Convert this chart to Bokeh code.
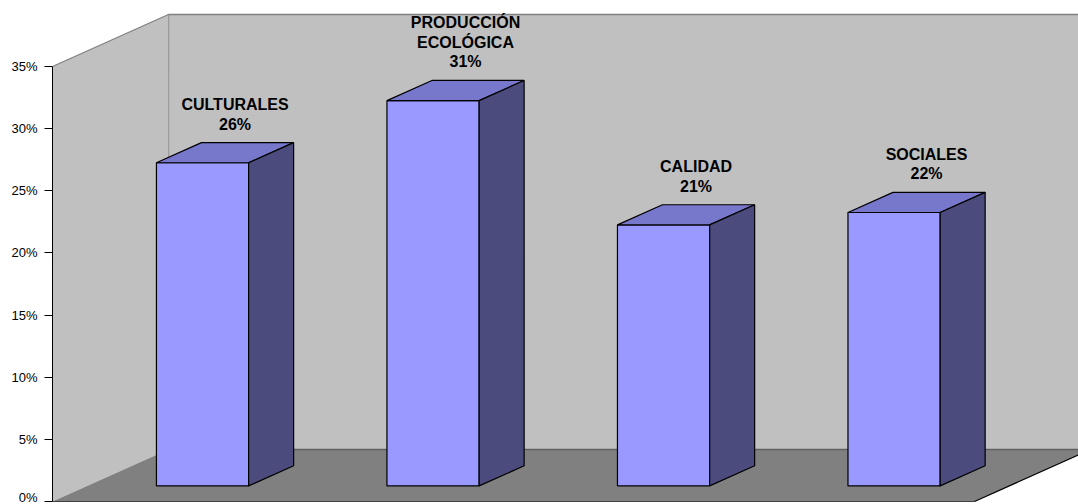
from bokeh.plotting import figure
from bokeh.models import Range1d, FixedTicker, PrintfTickFormatter, ColumnDataSource
from bokeh.core.properties import value
from bokeh.embed import file_html
from bokeh.resources import INLINE

# Chart data
categories = ["CULTURALES", "PRODUCCIÓN\nECOLÓGICA", "CALIDAD", "SOCIALES"]
percent = [26, 31, 21, 22]
y_ticks = [0, 5, 10, 15, 20, 25, 30, 35]

# 3-D box geometry (x in category slots, y in percent)
Y_MAX = 35
DEPTH_X = 0.503          # horizontal shift from front to back wall
DEPTH_Y = 4.18           # vertical shift from front to back wall
F_FRONT, F_BACK = 0.30, 0.688   # bar front/back depth as a fraction of the box
BAR_W = 0.40
N = len(categories)

WALL = "#C0C0C0"
FLOOR = "#808080"
BAR_FRONT = "#9999FF"
BAR_TOP = "#7777CC"
BAR_SIDE = "#4B4B7D"

p = figure(width=1078, height=504, output_backend="svg", toolbar_location=None,
           x_range=Range1d(0, 4.451), y_range=Range1d(-0.241, 40.31),
           min_border_left=52, min_border_right=0, min_border_top=0, min_border_bottom=0,
           tools="")
p.xaxis.visible = False
p.xgrid.visible = False
p.ygrid.visible = False
p.outline_line_color = None
p.background_fill_color = "white"
p.border_fill_color = "white"

ax = p.yaxis[0]
ax.ticker = FixedTicker(ticks=y_ticks)
ax.formatter = PrintfTickFormatter(format="%d%%")
ax.bounds = (0, Y_MAX)
ax.axis_line_color = "black"
ax.major_tick_line_color = "black"
ax.major_tick_out = 8
ax.major_tick_in = 0
ax.minor_tick_line_color = None
ax.major_label_standoff = 7
ax.major_label_text_font = "Liberation Sans"
ax.major_label_text_font_size = "13px"
ax.major_label_text_color = "black"

# Back wall, left wall and floor
right = N + DEPTH_X
p.patch([DEPTH_X, right, right, DEPTH_X], [DEPTH_Y, DEPTH_Y, Y_MAX + DEPTH_Y, Y_MAX + DEPTH_Y],
        fill_color=WALL, line_color=None)
p.line([DEPTH_X, DEPTH_X, right], [DEPTH_Y, Y_MAX + DEPTH_Y, Y_MAX + DEPTH_Y],
       line_color="#808080", line_width=1.5)
p.patch([0, DEPTH_X, DEPTH_X, 0], [0, DEPTH_Y, Y_MAX + DEPTH_Y, Y_MAX],
        fill_color=WALL, line_color=None)
p.line([0, DEPTH_X], [Y_MAX, Y_MAX + DEPTH_Y], line_color="#808080", line_width=1.2)
p.patch([0, N, N + DEPTH_X, DEPTH_X], [0, 0, DEPTH_Y, DEPTH_Y],
        fill_color=FLOOR, line_color=None)
p.line([DEPTH_X, right], [DEPTH_Y, DEPTH_Y], line_color="#606060", line_width=1.5)
p.line([0, N], [0, 0], line_color="#404040", line_width=1.2)
p.line([N, N + DEPTH_X], [0, DEPTH_Y], line_color="black", line_width=1.2)

# Bars: front, top and side faces
fx, fy, tx, ty, sx, sy = [], [], [], [], [], []
for i, v in enumerate(percent):
    c = i + 0.5
    x0 = c - BAR_W / 2 + F_FRONT * DEPTH_X
    x1 = c + BAR_W / 2 + F_FRONT * DEPTH_X
    y0 = F_FRONT * DEPTH_Y
    y1 = v + F_FRONT * DEPTH_Y
    ddx = (F_BACK - F_FRONT) * DEPTH_X
    ddy = (F_BACK - F_FRONT) * DEPTH_Y
    fx.append([x0, x1, x1, x0]); fy.append([y0, y0, y1, y1])
    tx.append([x0, x1, x1 + ddx, x0 + ddx]); ty.append([y1, y1, y1 + ddy, y1 + ddy])
    sx.append([x1, x1 + ddx, x1 + ddx, x1]); sy.append([y0, y0 + ddy, y1 + ddy, y1])

p.patches(fx, fy, fill_color=BAR_FRONT, line_color="black", line_width=1.2)
p.patches(tx, ty, fill_color=BAR_TOP, line_color="black", line_width=1.2)
p.patches(sx, sy, fill_color=BAR_SIDE, line_color="black", line_width=1.2)

# Data labels above each bar
mid = (F_FRONT + F_BACK) / 2
labels = ColumnDataSource(dict(
    x=[i + 0.5 + mid * DEPTH_X for i in range(N)],
    y=[v + F_BACK * DEPTH_Y for v in percent],
    text=[f"{c}\n{v}%" for c, v in zip(categories, percent)],
))
p.text(x="x", y="y", text="text", source=labels, x_offset=10, y_offset=-10,
       text_align="center", text_baseline="bottom", text_font=value("Liberation Sans"),
       text_font_style="bold", text_font_size="16px", text_line_height=1.15,
       text_color="black")

open("out.html", "w").write(file_html(p, INLINE))
